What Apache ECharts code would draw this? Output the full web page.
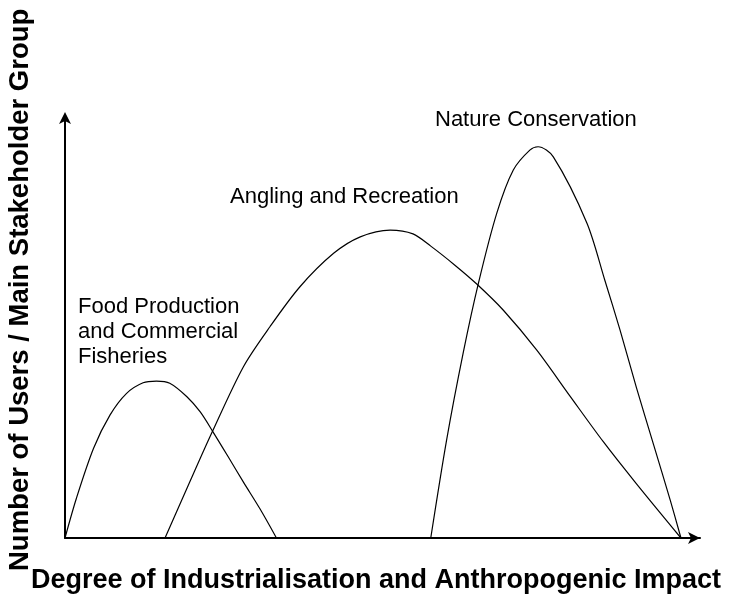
<!DOCTYPE html>
<html>
<head>
<meta charset="utf-8">
<title>stakeholder curves</title>
<script src="https://cdn.jsdelivr.net/npm/echarts@6/dist/echarts.min.js"></script>
<style>
  html,body{margin:0;padding:0;background:#fff;}
  #chart{width:746px;height:602px;}
</style>
</head>
<body>
<div id="chart"></div>
<script>
  // x: degree of impact (0-100), y: number of users (0-100)
  var foodData = [[0,0],[1.8,9.4],[4.5,21.2],[7.1,29.1],[9.7,34.2],[12.3,36.7],[14.4,37.1],[16.5,36.6],[19.2,33.4],[21.3,29.8],[23.3,25.1],[25.7,19.2],[28.1,13.2],[30.7,6.9],[33.3,0]];
  var anglingData = [[15.75,0],[19.4,12.4],[23.1,24.8],[28.1,40.5],[32.3,50.0],[37.0,59.4],[42.3,67.3],[46.5,71.2],[51.2,72.8],[54.8,71.9],[57.6,69.0],[61.4,64.5],[64.8,60.1],[69.0,53.9],[74.3,44.4],[79.5,33.6],[84.8,22.7],[90.0,12.8],[97.0,0]];
  var natureData = [[57.6,0],[60.1,23.2],[62.7,43.7],[65.1,60.2],[68.0,76.8],[70.6,87.0],[73.2,91.7],[74.5,92.5],[76.9,90.1],[82.2,74.4],[85.0,61.0],[87.4,49.2],[90.0,35.5],[92.7,22.0],[95.3,9.0],[97.0,0]];
  var xTitle = 'Degree of Industrialisation and Anthropogenic Impact';
  var yTitle = 'Number of Users / Main Stakeholder Group';

  var chart = echarts.init(document.getElementById('chart'));
  var font = 'Liberation Sans, Arial, sans-serif';

  function lineSeries(name, data){
    return {
      name: name,
      type: 'line',
      data: data,
      smooth: 0.3,
      symbol: 'none',
      lineStyle: {color: '#000', width: 1.2},
      silent: true
    };
  }

  function label(text, x, y){
    return {type: 'text', x: x, y: y, style: {text: text, font: '22px ' + font, fill: '#000', textVerticalAlign: 'middle'}};
  }

  var option = {
    backgroundColor: '#fff',
    animation: false,
    grid: {left: 65, right: 46, top: 115, bottom: 64},
    xAxis: {
      type: 'value', min: 0, max: 100,
      axisLine: {lineStyle: {color: '#000', width: 2}, symbol: ['none','arrow'], symbolSize: [9,12], symbolOffset: [0,0]},
      axisTick: {show: false}, axisLabel: {show: false}, splitLine: {show: false}
    },
    yAxis: {
      type: 'value', min: 0, max: 100,
      axisLine: {lineStyle: {color: '#000', width: 2}, symbol: ['none','arrow'], symbolSize: [9,12], symbolOffset: [0,3]},
      axisTick: {show: false}, axisLabel: {show: false}, splitLine: {show: false}
    },
    graphic: [
      {type: 'text', x: 376, y: 581, style: {text: xTitle, font: 'bold 27px ' + font, fill: '#000', textAlign: 'center', textVerticalAlign: 'middle'}},
      {type: 'text', x: 6, y: 571, rotation: Math.PI/2, style: {text: yTitle, font: 'bold 27.5px ' + font, fill: '#000', textAlign: 'left', textVerticalAlign: 'top'}},
      label('Nature Conservation', 435, 120),
      label('Angling and Recreation', 230, 197),
      label('Food Production', 78, 307),
      label('and Commercial', 78, 332),
      label('Fisheries', 78, 357)
    ],
    series: [
      lineSeries('Food Production and Commercial Fisheries', foodData),
      lineSeries('Angling and Recreation', anglingData),
      lineSeries('Nature Conservation', natureData)
    ]
  };
  chart.setOption(option);
</script>
</body>
</html>
